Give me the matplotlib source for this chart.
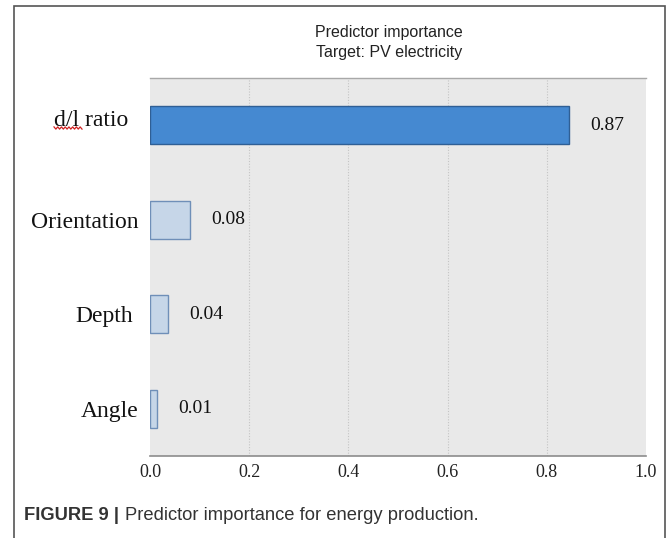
import numpy as np
import matplotlib
matplotlib.use("Agg")
import matplotlib.pyplot as plt
import matplotlib.transforms as mtransforms
from matplotlib.patches import Rectangle
from matplotlib.lines import Line2D

# data (top to bottom)
predictors = ["d/l ratio", "Orientation", "Depth", "Angle"]
bar_length = [0.845, 0.081, 0.037, 0.014]
value_text = ["0.87", "0.08", "0.04", "0.01"]
x_ticks = [0.0, 0.2, 0.4, 0.6, 0.8, 1.0]

serif = "Liberation Serif"
sans = "Liberation Sans"
W, H = 669, 538

fig = plt.figure(figsize=(6.69, 5.38), dpi=100)
ax = fig.add_axes([150 / W, 1 - 456 / H, (646 - 150) / W, (456 - 78) / H])
ax.set_facecolor("#e9e9e9")

ypos = np.arange(len(predictors))
face = ["#4589d1"] + ["#c6d6e8"] * (len(predictors) - 1)
edge = ["#2f5f95"] + ["#6f8fb8"] * (len(predictors) - 1)
ax.barh(ypos, bar_length, height=0.4, color=face, edgecolor=edge, linewidth=1.0, zorder=3)

for y, v, t in zip(ypos, bar_length, value_text):
    ax.annotate(t, (v, y), xytext=(15, 0), textcoords="offset points",
                va="center", ha="left", fontsize=14, family=serif, color="#111111")

ax.set_xlim(0, 1.0)
ax.set_ylim(3.5, -0.5)
ax.set_xticks(x_ticks)
ax.set_xticklabels([f"{t:.1f}" for t in x_ticks], fontsize=13, family=serif, color="#222222")
ax.set_yticks(ypos)
ax.set_yticklabels(predictors, fontsize=17, family=serif, color="#111111")
ax.tick_params(axis="both", length=0)
ax.tick_params(axis="y", pad=8)
ax.tick_params(axis="x", pad=6)

# the labels in the picture are not quite aligned: nudge them (pixels)
nudge = [(-11, 7), (0, 0), (-6, 0), (0, 0)]
for lab, (dx, dy) in zip(ax.get_yticklabels(), nudge):
    lab.set_transform(lab.get_transform() +
                      mtransforms.ScaledTranslation(dx / 100, dy / 100, fig.dpi_scale_trans))

for x in x_ticks[1:-1]:
    ax.axvline(x, color="#c4c4c4", linestyle=(0, (1, 1.5)), linewidth=0.8, zorder=1)

for s in ["left", "right"]:
    ax.spines[s].set_visible(False)
ax.spines["top"].set_color("#a8a8a8")
ax.spines["bottom"].set_color("#8c8c8c")
ax.spines["top"].set_linewidth(1.0)
ax.spines["bottom"].set_linewidth(1.2)

fig.text(389 / W, 1 - 33 / H, "Predictor importance", ha="center", va="center",
         fontsize=11.5, family=sans, color="#222222")
fig.text(389 / W, 1 - 52 / H, "Target: PV electricity", ha="center", va="center",
         fontsize=11.5, family=sans, color="#222222")

# red spell-check squiggle under "d/l"
zx = np.linspace(54, 82, 16)
zy = 128 + np.where(np.arange(16) % 2 == 0, -1.1, 1.1)
fig.add_artist(Line2D(zx / W, 1 - zy / H, color="#d02020", linewidth=0.9))

# caption
cap1 = fig.text(24 / W, 1 - 516 / H, "FIGURE 9 |", ha="left", va="center",
                fontsize=13.2, family=sans, weight="bold", color="#333333")
fig.canvas.draw()
bb = cap1.get_window_extent()
fig.text(bb.x1 / W + 6 / W, 1 - 516 / H, "Predictor importance for energy production.",
         ha="left", va="center", fontsize=13.2, family=sans, color="#333333")

# outer frame
fig.add_artist(Rectangle((14 / W, -0.05), (665 - 14) / W, 1.05 - 6 / H,
                         transform=fig.transFigure, fill=False,
                         edgecolor="#555555", linewidth=1.2))

fig.savefig("out.png", dpi=100)
